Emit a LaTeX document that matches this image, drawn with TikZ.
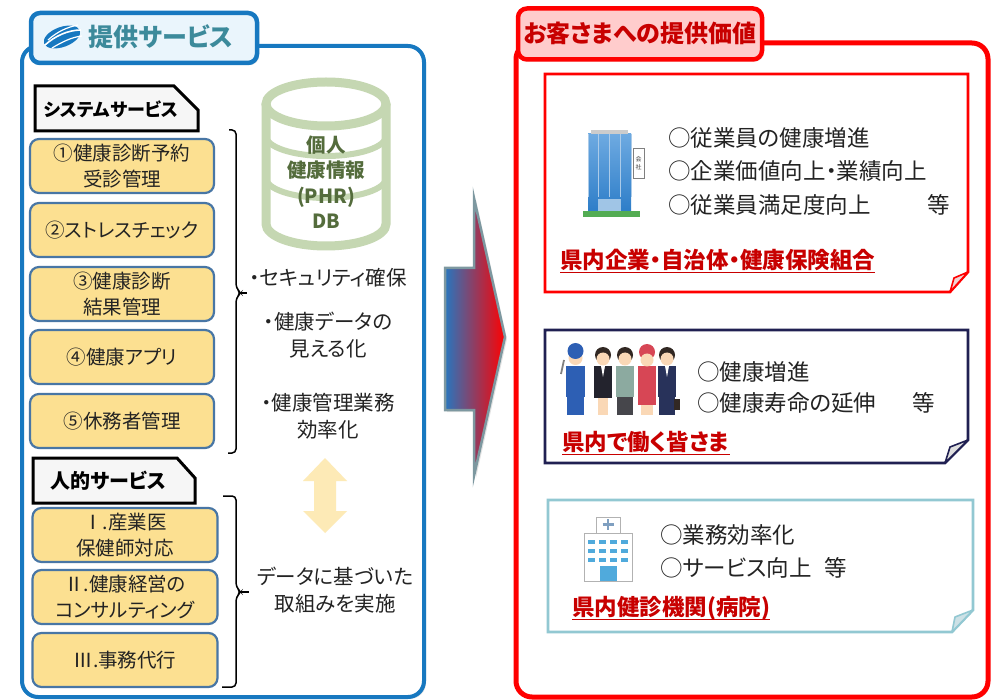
\documentclass[tikz,border=0pt]{standalone}
\usepackage{fontspec}
\setmainfont{Noto Sans CJK JP}[RawFeature=+palt]
\usetikzlibrary{shadows}
\definecolor{svcblue}{RGB}{23,120,192}
\definecolor{tabblue}{RGB}{234,245,252}
\definecolor{tealtxt}{RGB}{60,138,155}
\definecolor{boxfill}{RGB}{252,224,145}
\definecolor{boxline}{RGB}{72,118,165}
\definecolor{dbgreen}{RGB}{197,215,178}
\definecolor{dbtext}{RGB}{84,108,60}
\definecolor{pale}{RGB}{253,234,182}
\definecolor{valred}{RGB}{255,0,0}
\definecolor{darkred}{RGB}{200,0,0}
\definecolor{pinkfill}{RGB}{255,204,204}
\definecolor{navyline}{RGB}{32,32,82}
\definecolor{aqualine}{RGB}{146,200,210}
\definecolor{txtgray}{RGB}{35,35,35}
\definecolor{arrowline}{RGB}{125,152,160}
\definecolor{arrowblue}{RGB}{40,118,190}
\definecolor{bldblue}{RGB}{45,125,200}
\definecolor{bldtop}{RGB}{110,170,225}
\definecolor{winblue}{RGB}{80,170,220}
\definecolor{skin}{RGB}{250,216,182}
\definecolor{hair}{RGB}{50,40,35}
\definecolor{overall}{RGB}{45,95,180}
\definecolor{suitblack}{RGB}{35,35,45}
\definecolor{sweater}{RGB}{140,170,160}
\definecolor{pants}{RGB}{70,70,75}
\definecolor{apron}{RGB}{215,70,85}
\definecolor{suitnavy}{RGB}{40,50,90}
\definecolor{flapred}{RGB}{240,210,210}
\definecolor{flapaqua}{RGB}{205,225,230}
\tikzset{softshadow/.style = {drop shadow={opacity=0.22, shadow xshift=2pt, shadow yshift=-2pt}}}
\tikzset{tab/.style = {rounded corners=9pt, line width=4.5pt, inner sep=0pt}}
\tikzset{tabline/.style = {draw=black, line width=3pt, fill=gray!7, line join=miter}}
\tikzset{tabtxt/.style = {text=black, font=\bfseries\fontsize{18}{22}\selectfont}}
\tikzset{svcbox/.style = {draw=boxline, line width=2.2pt, fill=boxfill, rounded corners=9pt, minimum width=184pt, minimum height=54pt, inner sep=0pt, align=center, text=txtgray, font=\fontsize{19.5}{26}\selectfont}}
\tikzset{brk/.style = {line width=1.5pt, rounded corners=4pt}}
\tikzset{note/.style = {align=center, text=txtgray, font=\fontsize{20.5}{27}\selectfont}}
\tikzset{dbtxt/.style = {align=center, text=dbtext, font=\bfseries\fontsize{19.5}{25.5}\selectfont}}
\tikzset{card/.style = {line width=2.6pt, fill=white, line join=miter}}
\tikzset{flap/.style = {line width=1.6pt, line join=round}}
\tikzset{valitem/.style = {anchor=west, inner sep=0pt, text=txtgray, font=\fontsize{22.5}{26}\selectfont}}
\tikzset{who/.style = {anchor=west, inner sep=0pt, text=darkred, font=\bfseries\fontsize{22.5}{26}\selectfont}}
\begin{document}
\begin{tikzpicture}[x=1pt,y=-1pt]
\useasboundingbox (0,0) rectangle (993,700);

% services side
\draw[svcblue, line width=4pt, rounded corners=16pt, fill=white, softshadow] (22,46) rectangle (424,697);
\node[tab, draw=svcblue, fill=tabblue, minimum width=226pt, minimum height=50pt, softshadow] (svctab) at (144,38) {};
\fill[svcblue, rotate around={20:(62,37)}] (62,37) ellipse (19 and 10);
\draw[white, line width=1.6pt] (45,45) .. controls (55,36) and (68,30) .. (81,30);
\draw[white, line width=1.2pt] (48,40) .. controls (58,31) and (68,27) .. (78,25);
\draw[white, line width=1.2pt] (52,48) .. controls (62,42) and (72,37) .. (82,36);
\node[text=tealtxt, font=\bfseries\fontsize{25}{30}\selectfont] (svctitle) at (161,37) {提供サービス};

\draw[tabline] (35,86) -- (174,86) -- (198,110) -- (198,131) -- (35,131) -- cycle;
\node[tabtxt] (systab) at (111,109) {システムサービス};
\node[svcbox] (sv1) at (122,166) {①健康診断予約\\受診管理};
\node[svcbox] (sv2) at (122,230) {②ストレスチェック};
\node[svcbox] (sv3) at (122,294) {③健康診断\\結果管理};
\node[svcbox] (sv4) at (122,357) {④健康アプリ};
\node[svcbox] (sv5) at (122,421) {⑤休務者管理};
\draw[brk] (229,130) -- (236,130) -- (236,288) -- (241,293) -- (236,298) -- (236,453) -- (228,453);
\draw[line width=1.5pt] (239,293) -- (247,293);

\draw[tabline] (33,458) -- (177,458) -- (195,478) -- (195,503) -- (33,503) -- cycle;
\node[tabtxt, font=\bfseries\fontsize{20}{22}\selectfont] (humtab) at (108,481) {人的サービス};
\node[svcbox, minimum width=185pt] (hs1) at (125,535) {Ⅰ.産業医\\保健師対応};
\node[svcbox, minimum width=185pt] (hs2) at (125,597) {Ⅱ.健康経営の\\コンサルティング};
\node[svcbox, minimum width=185pt] (hs3) at (125,660) {Ⅲ.事務代行};
\draw[brk] (223,496) -- (236,496) -- (236,587) -- (241,592) -- (236,597) -- (236,687) -- (222,687);
\draw[line width=1.5pt] (239,592) -- (249,592);

% PHR database
\draw[dbgreen, line width=9pt] (266,104) -- (266,224) arc[start angle=180, end angle=0, x radius=60, y radius=22] -- (386,104);
\draw[dbgreen, line width=9pt] (326,104) ellipse (60 and 22);
\draw[dbgreen, line width=6pt] (266,136) arc[start angle=180, end angle=0, x radius=60, y radius=20];
\draw[dbgreen, line width=6pt] (266,178) arc[start angle=180, end angle=0, x radius=60, y radius=20];
\node[dbtxt] (phr) at (326,182) {個人\\健康情報\\(PHR)\\DB};

\node[note] (sec) at (328,278) {・セキュリティ確保};
\node[note] (vis) at (328,335) {・健康データの\\見える化};
\node[note] (eff) at (328,416) {・健康管理業務\\効率化};
\fill[pale] (325,458) -- (347,481) -- (336,481) -- (336,511) -- (347,511) -- (325,533) -- (303,511) -- (314,511) -- (314,481) -- (303,481) -- cycle;
\node[note] (data) at (335,590) {データに基づいた\\取組みを実施};

% arrow between panels
\shade[left color=arrowblue, right color=valred, draw=arrowline, line width=2.5pt, line join=miter, softshadow] (445,268) -- (474,268) -- (474,198) -- (505,337) -- (474,476) -- (474,410) -- (445,410) -- cycle;

% customer side
\draw[valred, line width=5pt, rounded corners=16pt, fill=white, softshadow] (516,43) rectangle (988,697);
\node[tab, draw=valred, fill=pinkfill, minimum width=244pt, minimum height=51pt, softshadow] (valtab) at (640,34) {};
\node[text=darkred, font=\bfseries\fontsize{24}{28}\selectfont] (valtitle) at (640,33) {お客さまへの提供価値};

\draw[card, draw=valred] (545,74) -- (968,74) -- (968,272) -- (950,292) -- (545,292) -- cycle;
\draw[flap, draw=valred, fill=flapred] (950,292) -- (954,278) -- (968,272) -- cycle;
\shade[top color=bldtop, bottom color=bldblue] (588,134) rectangle (631,212);
\fill[gray!40] (591,130) rectangle (628,134);
\draw[white!60!bldblue, line width=0.8pt, shift={(588,134)}, xstep=10.75, ystep=9] (0,0) grid (43,63);
\fill[white!55!bldblue] (598,199) rectangle (621,212);
\fill[green!35!gray] (583,211) rectangle (640,217);
\draw[gray, fill=white, line width=0.6pt] (633,148) rectangle (644,178);
\node[font=\fontsize{6}{8}\selectfont, align=center, inner sep=0pt, text=darkgray] (sign) at (638.5,163) {会\\社};
\node[valitem] (c1a) at (668,138) {○従業員の健康増進};
\node[valitem] (c1b) at (668,171) {○企業価値向上・業績向上};
\node[valitem] (c1c) at (668,205) {○従業員満足度向上};
\node[valitem] (c1d) at (927,205) {等};
\node[who] (c1who) at (560,260) {県内企業・自治体・健康保険組合};
\draw[darkred, line width=1.5pt] ([yshift=-4pt]c1who.base west) -- ([yshift=-4pt]c1who.base east);

\draw[card, draw=navyline] (545,330) -- (968,330) -- (968,440) -- (945,463) -- (545,463) -- cycle;
\draw[flap, draw=navyline, fill=gray!25] (945,463) -- (950,447) -- (968,440) -- cycle;
% five workers
\fill[overall] (566,366) rectangle (585,397);
\fill[overall] (567,397) rectangle (584,415);
\fill[skin] (575.5,358) circle (7);
\fill[overall] (575.5,351) circle (8);
\draw[gray, line width=1.8pt] (561,374) -- (564,360);
\fill[suitblack] (594,366) rectangle (612,398);
\fill[white] (601,366) -- (603,377) -- (605,366) -- cycle;
\fill[skin] (598,398) rectangle (608,415);
\fill[hair] (603,355) circle (8);
\fill[skin] (603,359) circle (6.5);
\fill[sweater] (616,366) rectangle (634,397);
\fill[pants] (617,397) rectangle (633,415);
\fill[hair] (625,355) circle (8);
\fill[skin] (625,359) circle (6.5);
\fill[apron] (638,366) rectangle (656,405);
\fill[skin] (641,405) rectangle (653,415);
\fill[apron] (647,352) circle (8);
\fill[skin] (647,360) circle (6.5);
\fill[suitnavy] (658,366) rectangle (676,397);
\fill[suitnavy] (659,397) rectangle (675,415);
\fill[white] (665,366) -- (667,377) -- (669,366) -- cycle;
\fill[hair] (667,355) circle (8);
\fill[skin] (667,359) circle (6.5);
\fill[hair] (674,399) rectangle (680,410);
\node[valitem] (c2a) at (697,372) {○健康増進};
\node[valitem] (c2b) at (697,403) {○健康寿命の延伸};
\node[valitem] (c2c) at (912,403) {等};
\node[who] (c2who) at (562,442) {県内で働く皆さま};
\draw[darkred, line width=1.5pt] ([yshift=-4pt]c2who.base west) -- ([yshift=-4pt]c2who.base east);

\draw[card, draw=aqualine] (548,500) -- (973,500) -- (973,610) -- (952,632) -- (548,632) -- cycle;
\draw[flap, draw=aqualine, fill=flapaqua] (952,632) -- (955,617) -- (973,610) -- cycle;
% hospital
\draw[gray!60, fill=white, line width=0.8pt] (596,517) rectangle (620,533);
\draw[boxline!70, line width=2.2pt] (608,519) -- (608,530) (602.5,524.5) -- (613.5,524.5);
\draw[gray!60, fill=white, line width=0.8pt] (584,533) rectangle (632,581);
\draw[winblue, line width=4pt, dash pattern=on 7pt off 4pt] (588,542) -- (630,542);
\draw[winblue, line width=4pt, dash pattern=on 7pt off 4pt] (588,551) -- (630,551);
\draw[winblue, line width=4pt, dash pattern=on 7pt off 4pt] (588,560) -- (630,560);
\fill[winblue] (600,566) rectangle (617,581);
\node[valitem] (c3a) at (660,535) {○業務効率化};
\node[valitem] (c3b) at (660,568) {○サービス向上};
\node[valitem] (c3c) at (824,568) {等};
\node[who] (c3who) at (572,608) {県内健診機関(病院)};
\draw[darkred, line width=1.5pt] ([yshift=-4pt]c3who.base west) -- ([yshift=-4pt]c3who.base east);
\end{tikzpicture}
\end{document}
